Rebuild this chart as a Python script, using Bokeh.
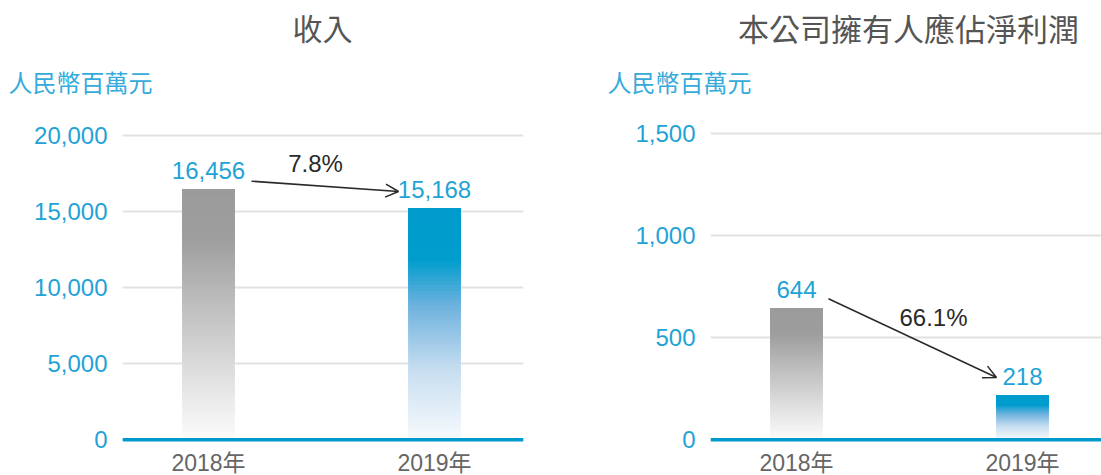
from bokeh.plotting import figure
from bokeh.layouts import row, column
from bokeh.models import (ColumnDataSource, Range1d, FixedTicker, NumeralTickFormatter,
                          Span, Arrow, OpenHead, Label)
from bokeh.core.properties import value
from bokeh.embed import file_html
from bokeh.resources import INLINE

# ---------------- data ----------------
years = ["2018年", "2019年"]
revenue = [16456, 15168]
profit = [644, 218]
revenue_change = "7.8%"
profit_change = "66.1%"
revenue_ticks = [0, 5000, 10000, 15000, 20000]
profit_ticks = [0, 500, 1000, 1500]
titles = ["收入", "本公司擁有人應佔淨利潤"]
unit = "人民幣百萬元"

# ---------------- styles ----------------
NUM_FONT = "Liberation Sans, Noto Sans CJK TC"
CJK_FONT = "Noto Sans CJK TC, Liberation Sans"
BLUE_TEXT = "#1fa3d6"
UNIT_BLUE = "#35abdb"
AXIS_BLUE = "#0099cc"
GRID = "#e1e1e1"
TITLE_GRAY = "#555555"
CAT_GRAY = "#666666"
DARK = "#2a2a2a"

# gradient stops (fraction measured from bar top -> bar bottom)
GRAY_STOPS = [(0.0, (155, 155, 155)), (0.2, (158, 158, 158)), (0.5, (195, 195, 195)),
              (0.75, (224, 224, 224)), (1.0, (252, 252, 252))]
BLUE_STOPS = [(0.0, (0, 155, 204)), (0.22, (0, 157, 205)), (0.42, (110, 178, 222)),
              (0.7, (200, 222, 240)), (1.0, (246, 250, 253))]

TOTAL_W, TOTAL_H = 1101, 475
HEAD_H = 105
SPACING = 226.0   # px between bar centres
BAR_W = 52.0 / SPACING


def color_at(stops, f):
    for (f0, c0), (f1, c1) in zip(stops[:-1], stops[1:]):
        if f0 <= f <= f1:
            t = (f - f0) / (f1 - f0) if f1 > f0 else 0
            rgb = [round(a + (b - a) * t) for a, b in zip(c0, c1)]
            return "#%02x%02x%02x" % tuple(rgb)
    return "#%02x%02x%02x" % stops[-1][1]


# ---------------- header strip (titles + units) ----------------
head = figure(width=TOTAL_W, height=HEAD_H, x_range=Range1d(0, TOTAL_W),
              y_range=Range1d(HEAD_H, 0), x_axis_location=None, y_axis_location=None,
              toolbar_location=None, output_backend="svg",
              min_border_left=0, min_border_right=0, min_border_top=0, min_border_bottom=0)
head.outline_line_color = None
head.grid.visible = False
head.border_fill_color = "white"
for txt, cx, size in [(titles[0], 322, "30px"), (titles[1], 908, "31px")]:
    head.add_layout(Label(x=cx, y=26.5, text=txt, text_align="center", text_baseline="middle",
                          text_font=CJK_FONT, text_font_size=size, text_color=TITLE_GRAY))
for lx in [8, 607]:
    head.add_layout(Label(x=lx, y=81, text=unit, text_align="left", text_baseline="middle",
                          text_font=CJK_FONT, text_font_size="24px", text_color=UNIT_BLUE))


def panel(vals, ticks, change, fig_left, fig_width, frame_left, frame_right,
          c0, zero_px, px_per_unit, arrow_px, change_px):
    X = lambda px: (px - c0) / SPACING
    Y = lambda py: (zero_px - py) / px_per_unit

    p = figure(width=fig_width, height=TOTAL_H - HEAD_H,
               x_range=Range1d(X(frame_left), X(frame_right)),
               y_range=Range1d(Y(TOTAL_H), Y(HEAD_H)),
               x_axis_location=None, toolbar_location=None, output_backend="svg",
               min_border_left=frame_left - fig_left,
               min_border_right=fig_left + fig_width - frame_right,
               min_border_top=0, min_border_bottom=0)
    p.outline_line_color = None
    p.background_fill_color = "white"
    p.border_fill_color = "white"
    p.xgrid.visible = False
    p.ygrid.ticker = FixedTicker(ticks=ticks)
    p.ygrid.grid_line_color = GRID
    p.ygrid.grid_line_width = 2

    ax = p.yaxis[0]
    ax.ticker = FixedTicker(ticks=ticks)
    ax.formatter = NumeralTickFormatter(format="0,0")
    ax.axis_line_color = None
    ax.major_tick_line_color = None
    ax.minor_tick_line_color = None
    ax.major_tick_out = 0
    ax.major_label_standoff = 15
    ax.major_label_text_font = NUM_FONT
    ax.major_label_text_font_size = "24px"
    ax.major_label_text_color = BLUE_TEXT

    # gradient bars built from stacked slices of each value
    N = 70
    xs = list(range(len(vals)))
    for i, v in enumerate(vals):
        stops = GRAY_STOPS if i == 0 else BLUE_STOPS
        left, right, bottom, top, colors = [], [], [], [], []
        for k in range(N):
            t = k / N
            left.append(xs[i] - BAR_W / 2)
            right.append(xs[i] + BAR_W / 2)
            bottom.append(t * v)
            top.append(v)
            colors.append(color_at(stops, 1 - (t + 0.5 / N)))
        src = ColumnDataSource(dict(left=left, right=right, bottom=bottom, top=top, c=colors))
        p.quad(left="left", right="right", bottom="bottom", top="top", fill_color="c",
               line_color=None, source=src)

    # baseline
    p.add_layout(Span(location=0, dimension="width", line_color=AXIS_BLUE, line_width=3.5))

    # value labels (centred ~19 px above each bar)
    gap = 19 / px_per_unit
    vsrc = ColumnDataSource(dict(x=xs, y=[v + gap for v in vals], t=[f"{v:,}" for v in vals]))
    p.text(x="x", y="y", text="t", source=vsrc,
           text_align="center", text_baseline="middle",
           text_font=value(NUM_FONT), text_font_size="24px", text_color=BLUE_TEXT)

    # category labels
    csrc = ColumnDataSource(dict(x=xs, y=[Y(462)] * len(xs), t=years))
    p.text(x="x", y="y", text="t", source=csrc, text_align="center", text_baseline="middle",
           text_font=value(NUM_FONT), text_font_size="23px", text_color=CAT_GRAY)

    # change arrow + percentage
    (sx, sy), (ex, ey) = arrow_px
    p.add_layout(Arrow(x_start=X(sx), y_start=Y(sy), x_end=X(ex), y_end=Y(ey),
                       line_color=DARK, line_width=1.5,
                       end=OpenHead(size=13, line_color=DARK, line_width=1.5)))
    p.add_layout(Label(x=X(change_px[0]), y=Y(change_px[1]), text=change,
                       text_align="center", text_baseline="middle",
                       text_font=NUM_FONT, text_font_size="24px", text_color=DARK))
    return p


p1 = panel(revenue, revenue_ticks, revenue_change,
           fig_left=0, fig_width=560, frame_left=122, frame_right=523,
           c0=208, zero_px=439.3, px_per_unit=304.6 / 20000,
           arrow_px=((251, 180.7), (398, 191)), change_px=(315, 162.7))

p2 = panel(profit, profit_ticks, profit_change,
           fig_left=560, fig_width=TOTAL_W - 560, frame_left=710, frame_right=TOTAL_W,
           c0=796, zero_px=439.3, px_per_unit=306.6 / 1500,
           arrow_px=((828, 298.3), (996, 377)), change_px=(933, 316.7))

layout = column(head, row(p1, p2))
open("out.html", "w").write(file_html(layout, INLINE))
